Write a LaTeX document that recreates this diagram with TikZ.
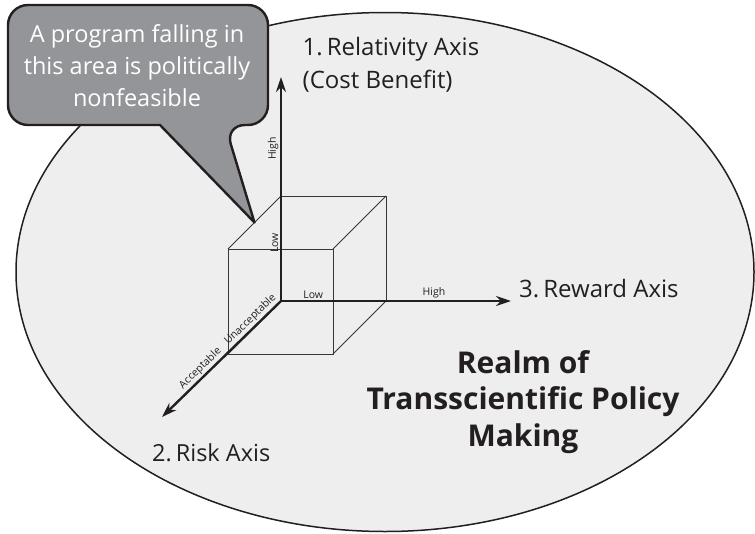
\documentclass[tikz,border=0pt]{standalone}
\usepackage{fontspec}
\setmainfont{Open Sans}
\usepackage{tikz}
\usetikzlibrary{arrows.meta,calc}
\definecolor{ink}{RGB}{35,31,32}
\definecolor{realmgray}{RGB}{238,238,238}
\definecolor{bubblegray}{RGB}{147,149,152}

\begin{document}
\begin{tikzpicture}[x=1pt,y=-1pt,
  axis/.style={-{Stealth[length=15pt,width=10pt]}, line width=2.4pt, ink},
  edge/.style={line width=1pt, ink!90},
  tick/.style={font=\fontsize{10.5}{12}\selectfont, inner sep=1.5pt, ink},
  axisname/.style={font=\fontsize{24}{32.5}\selectfont, align=left, inner sep=0pt, ink}]
\useasboundingbox (0,0) rectangle (755,533);
% realm
\draw[line width=1.5pt, ink, fill=realmgray] (385,272) ellipse [x radius=369, y radius=259.5];
% cube, back face starts at the origin
\coordinate (O) at (281,301);
\coordinate (bBR) at (386,301);
\coordinate (bTR) at (386,196);
\coordinate (bTL) at (281,196);
\coordinate (fBL) at (228,354);
\coordinate (fBR) at (333,354);
\coordinate (fTR) at (333,249);
\coordinate (fTL) at (228,249);
\draw[edge] (O) -- (bBR) -- (bTR) -- (bTL) -- cycle;
\draw[edge] (fBL) -- (fBR) -- (fTR) -- (fTL) -- cycle;
\draw[edge] (O) -- (fBL) (bBR) -- (fBR) (bTR) -- (fTR) (bTL) -- (fTL);
% axes
\coordinate (relativity) at (281,77);
\coordinate (reward) at (511,301);
\coordinate (risk) at (162,417);
\draw[axis] (O) -- node[tick, pos=0.26, sloped, above] {Low}
  node[tick, pos=0.68, sloped, above] {High} (relativity);
\draw[axis] (O) -- node[tick, pos=0.14, above] {Low}
  node[tick, pos=0.665, above] {High} (reward);
\draw[axis] (O) -- node[tick, pos=0.21, sloped, above] {Unacceptable}
  node[tick, pos=0.63, sloped, above] {Acceptable} (risk);
\node[axisname, anchor=north west] (relname) at (302.5,37.5) {1.\,Relativity Axis\\(Cost Benefit)};
\node[axisname, anchor=base west] (rewardname) at (519,297) {3.\,Reward Axis};
\node[axisname, anchor=base west, font=\fontsize{23.5}{30}\selectfont] (riskname) at (152,461) {2.\,Risk Axis};
\node[font=\fontsize{30}{36.7}\selectfont\bfseries, align=center, ink] (realm) at (523,402)
  {Realm of\\Transscientific Policy\\Making};
% callout
\coordinate (tip) at ($(fTL)!0.5!(bTL)$);
\draw[line width=2.4pt, ink, fill=bubblegray, line join=round]
  (8,65) [rounded corners=20] -- (8,5) -- (268,5) -- (268,125) -- (225,125)
  [sharp corners] -- (tip) -- (160,125) [rounded corners=20] -- (8,125) -- cycle;
\node[font=\fontsize{23.5}{32}\selectfont, align=center, white] (note) at (137,65.5)
  {A program falling in\\this area is politically\\nonfeasible};
\end{tikzpicture}
\end{document}
